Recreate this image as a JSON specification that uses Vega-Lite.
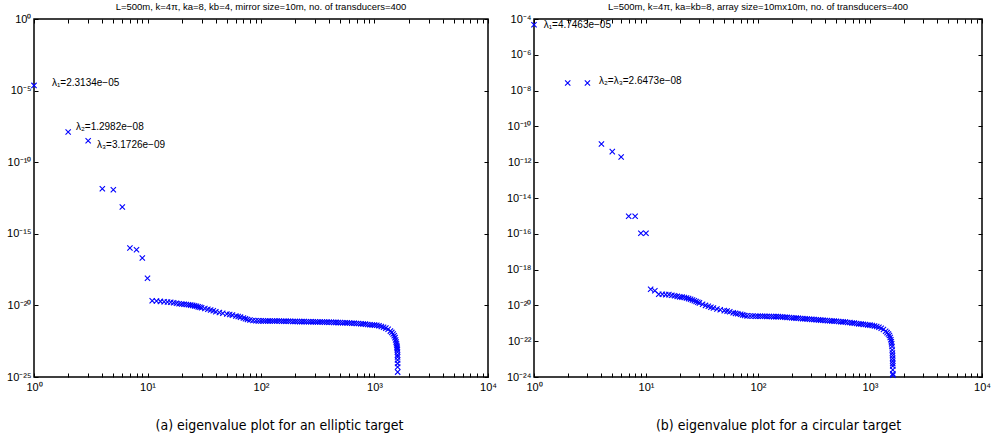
{
  "$schema": "https://vega.github.io/schema/vega-lite/v6.json",
  "padding": {"left": 5, "top": 0, "right": 0, "bottom": 0},
  "spacing": 7,
  "config": {
    "view": {"stroke": "black", "strokeWidth": 1.5},
    "style": {"cell": {"stroke": "black", "strokeWidth": 1.5}},
    "axis": {"grid": false, "tickColor": "black", "labelColor": "black", "labelFont": "Liberation Sans", "labelFontSize": 11, "titleColor": "black", "tickWidth": 1},
    "title": {"font": "Liberation Sans", "fontSize": 9.5, "fontWeight": "normal", "color": "black", "offset": 2}
  },
  "datasets": {
    "left": [
      {"n": 1, "y": 2.3134e-5}, {"n": 2, "y": 1.2982e-8}, {"n": 3, "y": 3.1726e-9},
      {"n": 4, "y": 1.41e-12}, {"n": 5, "y": 1.2e-12}, {"n": 6, "y": 7.4e-14},
      {"n": 7, "y": 1.02e-16}, {"n": 8, "y": 7.8e-17}, {"n": 9, "y": 2.04e-17}, {"n": 10, "y": 7.8e-19},
      {"n": 11, "y": 2.14e-20}, {"n": 12, "y": 2.0e-20}, {"n": 13, "y": 1.9e-20}, {"n": 14, "y": 1.82e-20},
      {"n": 15, "y": 1.74e-20}, {"n": 16, "y": 1.66e-20}, {"n": 17, "y": 1.51e-20}, {"n": 18, "y": 1.41e-20},
      {"n": 19, "y": 1.32e-20}, {"n": 20, "y": 1.26e-20}, {"n": 21, "y": 1.2e-20}, {"n": 22, "y": 1.15e-20},
      {"n": 23, "y": 1.1e-20}, {"n": 24, "y": 1.05e-20}, {"n": 25, "y": 1.0e-20}, {"n": 26, "y": 9.3e-21},
      {"n": 27, "y": 8.7e-21}, {"n": 28, "y": 7.9e-21}, {"n": 29, "y": 7.4e-21}, {"n": 30, "y": 6.8e-21},
      {"n": 32, "y": 6.0e-21}, {"n": 34, "y": 5.4e-21}, {"n": 36, "y": 4.8e-21}, {"n": 38, "y": 4.2e-21},
      {"n": 40, "y": 3.6e-21}, {"n": 43, "y": 3.2e-21}, {"n": 46, "y": 2.8e-21}, {"n": 50, "y": 2.5e-21},
      {"n": 53, "y": 2.3e-21}, {"n": 56, "y": 2.1e-21}, {"n": 60, "y": 1.8e-21}, {"n": 63, "y": 1.66e-21},
      {"n": 66, "y": 1.51e-21}, {"n": 70, "y": 1.32e-21}, {"n": 73, "y": 1.17e-21}, {"n": 76, "y": 1.05e-21},
      {"n": 80, "y": 9.5e-22}, {"n": 85, "y": 8.9e-22}, {"n": 90, "y": 8.5e-22}, {"n": 95, "y": 8.3e-22},
      {"n": 100, "y": 8.3e-22}, {"n": 105, "y": 8.3e-22}, {"n": 110, "y": 8.2e-22}, {"n": 115, "y": 8.2e-22},
      {"n": 120, "y": 8.1e-22}, {"n": 126, "y": 8.1e-22}, {"n": 132, "y": 8.1e-22}, {"n": 138, "y": 8.1e-22},
      {"n": 145, "y": 8.1e-22}, {"n": 152, "y": 7.9e-22}, {"n": 159, "y": 7.9e-22}, {"n": 166, "y": 7.9e-22},
      {"n": 174, "y": 7.8e-22}, {"n": 182, "y": 7.8e-22}, {"n": 191, "y": 7.6e-22}, {"n": 200, "y": 7.6e-22},
      {"n": 209, "y": 7.6e-22}, {"n": 219, "y": 7.4e-22}, {"n": 229, "y": 7.4e-22}, {"n": 240, "y": 7.4e-22},
      {"n": 251, "y": 7.2e-22}, {"n": 263, "y": 7.2e-22}, {"n": 275, "y": 7.2e-22}, {"n": 288, "y": 7.1e-22},
      {"n": 302, "y": 7.1e-22}, {"n": 316, "y": 6.9e-22}, {"n": 331, "y": 6.9e-22}, {"n": 347, "y": 6.9e-22},
      {"n": 363, "y": 6.8e-22}, {"n": 380, "y": 6.8e-22}, {"n": 398, "y": 6.6e-22}, {"n": 417, "y": 6.6e-22},
      {"n": 437, "y": 6.5e-22}, {"n": 457, "y": 6.5e-22}, {"n": 479, "y": 6.3e-22}, {"n": 501, "y": 6.3e-22},
      {"n": 525, "y": 6.2e-22}, {"n": 550, "y": 6.2e-22}, {"n": 575, "y": 6.0e-22}, {"n": 603, "y": 5.9e-22},
      {"n": 631, "y": 5.75e-22}, {"n": 661, "y": 5.6e-22}, {"n": 692, "y": 5.5e-22}, {"n": 724, "y": 5.4e-22},
      {"n": 759, "y": 5.25e-22}, {"n": 794, "y": 5.0e-22}, {"n": 832, "y": 4.9e-22}, {"n": 871, "y": 4.7e-22},
      {"n": 912, "y": 4.5e-22}, {"n": 955, "y": 4.3e-22}, {"n": 1000, "y": 4.2e-22}, {"n": 1047, "y": 4.1e-22},
      {"n": 1096, "y": 3.8e-22}, {"n": 1148, "y": 3.4e-22}, {"n": 1202, "y": 2.95e-22}, {"n": 1259, "y": 2.6e-22},
      {"n": 1318, "y": 2.15e-22}, {"n": 1380, "y": 1.6e-22}, {"n": 1420, "y": 1.3e-22}, {"n": 1460, "y": 1.0e-22},
      {"n": 1490, "y": 7.6e-23}, {"n": 1515, "y": 5.6e-23}, {"n": 1535, "y": 3.8e-23}, {"n": 1550, "y": 2.8e-23},
      {"n": 1562, "y": 2.1e-23}, {"n": 1572, "y": 1.6e-23}, {"n": 1580, "y": 1.26e-23}, {"n": 1586, "y": 1.0e-23},
      {"n": 1590, "y": 7.9e-24}, {"n": 1593, "y": 5.6e-24}, {"n": 1595, "y": 3.5e-24}, {"n": 1596, "y": 2.5e-24},
      {"n": 1597, "y": 1.55e-24}, {"n": 1598, "y": 8.9e-25}, {"n": 1599, "y": 5.0e-25}, {"n": 1600, "y": 2.2e-25}
    ],
    "right": [
      {"n": 1, "y": 4.7463e-5}, {"n": 2, "y": 2.6473e-8}, {"n": 3, "y": 2.6473e-8},
      {"n": 4, "y": 1.05e-11}, {"n": 5, "y": 3.9e-12}, {"n": 6, "y": 1.95e-12},
      {"n": 7, "y": 9.5e-16}, {"n": 8, "y": 9.5e-16}, {"n": 9, "y": 1.07e-16}, {"n": 10, "y": 1.07e-16},
      {"n": 11, "y": 7.9e-20}, {"n": 12, "y": 6.6e-20}, {"n": 13, "y": 4.2e-20}, {"n": 14, "y": 4.2e-20},
      {"n": 15, "y": 4.0e-20}, {"n": 16, "y": 4.0e-20}, {"n": 17, "y": 3.7e-20}, {"n": 18, "y": 3.5e-20},
      {"n": 19, "y": 3.2e-20}, {"n": 20, "y": 3.0e-20}, {"n": 21, "y": 2.9e-20}, {"n": 22, "y": 2.75e-20},
      {"n": 23, "y": 2.6e-20}, {"n": 24, "y": 2.4e-20}, {"n": 25, "y": 2.2e-20}, {"n": 26, "y": 2.0e-20},
      {"n": 27, "y": 1.82e-20}, {"n": 28, "y": 1.66e-20}, {"n": 29, "y": 1.51e-20}, {"n": 30, "y": 1.38e-20},
      {"n": 32, "y": 1.17e-20}, {"n": 34, "y": 1.0e-20}, {"n": 36, "y": 8.9e-21}, {"n": 38, "y": 7.9e-21},
      {"n": 40, "y": 7.1e-21}, {"n": 43, "y": 6.3e-21}, {"n": 46, "y": 5.75e-21}, {"n": 50, "y": 5.1e-21},
      {"n": 53, "y": 4.8e-21}, {"n": 56, "y": 4.4e-21}, {"n": 60, "y": 3.9e-21}, {"n": 63, "y": 3.6e-21},
      {"n": 66, "y": 3.4e-21}, {"n": 70, "y": 3.2e-21}, {"n": 73, "y": 2.95e-21}, {"n": 76, "y": 2.75e-21},
      {"n": 80, "y": 2.6e-21}, {"n": 85, "y": 2.57e-21}, {"n": 90, "y": 2.57e-21}, {"n": 95, "y": 2.5e-21},
      {"n": 100, "y": 2.5e-21}, {"n": 105, "y": 2.5e-21}, {"n": 110, "y": 2.45e-21}, {"n": 115, "y": 2.45e-21},
      {"n": 120, "y": 2.4e-21}, {"n": 126, "y": 2.4e-21}, {"n": 132, "y": 2.4e-21}, {"n": 138, "y": 2.35e-21},
      {"n": 145, "y": 2.35e-21}, {"n": 152, "y": 2.35e-21}, {"n": 159, "y": 2.3e-21}, {"n": 166, "y": 2.24e-21},
      {"n": 174, "y": 2.19e-21}, {"n": 182, "y": 2.14e-21}, {"n": 191, "y": 2.09e-21}, {"n": 200, "y": 2.04e-21},
      {"n": 209, "y": 2.0e-21}, {"n": 219, "y": 1.95e-21}, {"n": 229, "y": 1.9e-21}, {"n": 240, "y": 1.86e-21},
      {"n": 251, "y": 1.82e-21}, {"n": 263, "y": 1.78e-21}, {"n": 275, "y": 1.74e-21}, {"n": 288, "y": 1.7e-21},
      {"n": 302, "y": 1.66e-21}, {"n": 316, "y": 1.62e-21}, {"n": 331, "y": 1.58e-21}, {"n": 347, "y": 1.55e-21},
      {"n": 363, "y": 1.51e-21}, {"n": 380, "y": 1.48e-21}, {"n": 398, "y": 1.45e-21}, {"n": 417, "y": 1.41e-21},
      {"n": 437, "y": 1.38e-21}, {"n": 457, "y": 1.35e-21}, {"n": 479, "y": 1.32e-21}, {"n": 501, "y": 1.29e-21},
      {"n": 525, "y": 1.26e-21}, {"n": 550, "y": 1.23e-21}, {"n": 575, "y": 1.2e-21}, {"n": 603, "y": 1.17e-21},
      {"n": 631, "y": 1.12e-21}, {"n": 661, "y": 1.1e-21}, {"n": 692, "y": 1.05e-21}, {"n": 724, "y": 1.02e-21},
      {"n": 759, "y": 9.8e-22}, {"n": 794, "y": 9.3e-22}, {"n": 832, "y": 9.1e-22}, {"n": 871, "y": 8.7e-22},
      {"n": 912, "y": 8.5e-22}, {"n": 955, "y": 8.1e-22}, {"n": 1000, "y": 7.9e-22}, {"n": 1047, "y": 7.6e-22},
      {"n": 1096, "y": 7.1e-22}, {"n": 1148, "y": 6.6e-22}, {"n": 1202, "y": 6.0e-22}, {"n": 1259, "y": 5.25e-22},
      {"n": 1318, "y": 4.5e-22}, {"n": 1380, "y": 3.6e-22}, {"n": 1420, "y": 3.0e-22}, {"n": 1460, "y": 2.5e-22},
      {"n": 1490, "y": 2.1e-22}, {"n": 1515, "y": 1.6e-22}, {"n": 1535, "y": 1.2e-22}, {"n": 1550, "y": 9.3e-23},
      {"n": 1562, "y": 7.1e-23}, {"n": 1572, "y": 5.0e-23}, {"n": 1580, "y": 3.2e-23}, {"n": 1586, "y": 2.2e-23},
      {"n": 1590, "y": 1.6e-23}, {"n": 1593, "y": 1.1e-23}, {"n": 1595, "y": 7.9e-24}, {"n": 1596, "y": 5.6e-24},
      {"n": 1597, "y": 4.1e-24}, {"n": 1598, "y": 2.5e-24}, {"n": 1599, "y": 1.5e-24}, {"n": 1600, "y": 1.26e-24}
    ],
    "leftLabels": [
      {"n": 1.44, "y": 3.5e-5, "label": "λ₁=2.3134e−05"},
      {"n": 2.34, "y": 2.9e-8, "label": "λ₂=1.2982e−08"},
      {"n": 3.59, "y": 1.6e-9, "label": "λ₃=3.1726e−09"}
    ],
    "rightLabels": [
      {"n": 1.22, "y": 4.6e-5, "label": "λ₁=4.7463e−05"},
      {"n": 3.8, "y": 3.5e-8, "label": "λ₂=λ₃=2.6473e−08"}
    ]
  },
  "hconcat": [
    {
      "width": 454, "height": 358,
      "title": "L=500m, k=4π, ka=8, kb=4, mirror size=10m, no. of transducers=400",
      "layer": [
        {
          "data": {"name": "left"},
          "mark": {"type": "point", "shape": "M-1,-1L1,1M-1,1L1,-1", "size": 28, "color": "#0000ff", "strokeWidth": 1.1, "filled": false, "opacity": 1},
          "encoding": {
            "x": {"field": "n", "type": "quantitative", "scale": {"type": "log", "domain": [1, 10000], "nice": false},
              "axis": {"orient": "bottom", "domain": false, "offset": -4, "tickSize": 4, "labelPadding": 4, "labelFlush": false, "labelOverlap": false,
                "values": [1,2,3,4,5,6,7,8,9,10,20,30,40,50,60,70,80,90,100,200,300,400,500,600,700,800,900,1000,2000,3000,4000,5000,6000,7000,8000,9000,10000],
                "labelExpr": "abs(log(datum.value)/LN10 - round(log(datum.value)/LN10)) < 0.001 ? ['10⁰','10¹','10²','10³','10⁴'][round(log(datum.value)/LN10)] : ''",
                "title": "(a) eigenvalue plot for an elliptic target", "titleFont": "DejaVu Sans Condensed", "titleFontSize": 14, "titleFontWeight": "normal", "titleX": 245, "titleY": 56, "titleBaseline": "alphabetic"}},
            "y": {"field": "y", "type": "quantitative", "scale": {"type": "log", "domain": [1e-25, 1], "nice": false},
              "axis": {"orient": "left", "domain": false, "offset": -4, "tickSize": 4, "labelPadding": 3, "labelOverlap": false, "labelFlush": false, "title": null,
                "values": [1e-25, 1e-20, 1e-15, 1e-10, 1e-5, 1],
                "labelExpr": "['10⁰','10⁻⁵','10⁻¹⁰','10⁻¹⁵','10⁻²⁰','10⁻²⁵'][round(-log(datum.value)/LN10/5)]"}}
          }
        },
        {
          "data": {"name": "leftLabels"},
          "mark": {"type": "text", "align": "left", "baseline": "middle", "font": "Liberation Sans", "fontSize": 10, "color": "black"},
          "encoding": {
            "x": {"field": "n", "type": "quantitative", "axis": {"orient": "top", "domain": false, "offset": -4, "tickSize": 4, "labels": false, "title": null,
              "values": [1,2,3,4,5,6,7,8,9,10,20,30,40,50,60,70,80,90,100,200,300,400,500,600,700,800,900,1000,2000,3000,4000,5000,6000,7000,8000,9000,10000]}},
            "y": {"field": "y", "type": "quantitative", "axis": {"orient": "right", "domain": false, "offset": -4, "tickSize": 4, "labels": false, "title": null,
              "values": [1e-25, 1e-20, 1e-15, 1e-10, 1e-5, 1]}},
            "text": {"field": "label"}
          }
        }
      ],
      "resolve": {"axis": {"x": "independent", "y": "independent"}}
    },
    {
      "width": 448, "height": 358,
      "title": "L=500m, k=4π, ka=kb=8, array size=10mx10m, no. of transducers=400",
      "layer": [
        {
          "data": {"name": "right"},
          "mark": {"type": "point", "shape": "M-1,-1L1,1M-1,1L1,-1", "size": 28, "color": "#0000ff", "strokeWidth": 1.1, "filled": false, "opacity": 1},
          "encoding": {
            "x": {"field": "n", "type": "quantitative", "scale": {"type": "log", "domain": [1, 10000], "nice": false},
              "axis": {"orient": "bottom", "domain": false, "offset": -4, "tickSize": 4, "labelPadding": 4, "labelFlush": false, "labelOverlap": false,
                "values": [1,2,3,4,5,6,7,8,9,10,20,30,40,50,60,70,80,90,100,200,300,400,500,600,700,800,900,1000,2000,3000,4000,5000,6000,7000,8000,9000,10000],
                "labelExpr": "abs(log(datum.value)/LN10 - round(log(datum.value)/LN10)) < 0.001 ? ['10⁰','10¹','10²','10³','10⁴'][round(log(datum.value)/LN10)] : ''",
                "title": "(b) eigenvalue plot for a circular target", "titleFont": "DejaVu Sans Condensed", "titleFontSize": 14, "titleFontWeight": "normal", "titleX": 244, "titleY": 56, "titleBaseline": "alphabetic"}},
            "y": {"field": "y", "type": "quantitative", "scale": {"type": "log", "domain": [1e-24, 1e-4], "nice": false},
              "axis": {"orient": "left", "domain": false, "offset": -4, "tickSize": 4, "labelPadding": 3, "labelOverlap": false, "labelFlush": false, "title": null,
                "values": [1e-24, 1e-22, 1e-20, 1e-18, 1e-16, 1e-14, 1e-12, 1e-10, 1e-8, 1e-6, 1e-4],
                "labelExpr": "['10⁻⁴','10⁻⁶','10⁻⁸','10⁻¹⁰','10⁻¹²','10⁻¹⁴','10⁻¹⁶','10⁻¹⁸','10⁻²⁰','10⁻²²','10⁻²⁴'][round((-log(datum.value)/LN10-4)/2)]"}}
          }
        },
        {
          "data": {"name": "rightLabels"},
          "mark": {"type": "text", "align": "left", "baseline": "middle", "font": "Liberation Sans", "fontSize": 10, "color": "black"},
          "encoding": {
            "x": {"field": "n", "type": "quantitative", "axis": {"orient": "top", "domain": false, "offset": -4, "tickSize": 4, "labels": false, "title": null,
              "values": [1,2,3,4,5,6,7,8,9,10,20,30,40,50,60,70,80,90,100,200,300,400,500,600,700,800,900,1000,2000,3000,4000,5000,6000,7000,8000,9000,10000]}},
            "y": {"field": "y", "type": "quantitative", "axis": {"orient": "right", "domain": false, "offset": -4, "tickSize": 4, "labels": false, "title": null,
              "values": [1e-24, 1e-22, 1e-20, 1e-18, 1e-16, 1e-14, 1e-12, 1e-10, 1e-8, 1e-6, 1e-4]}},
            "text": {"field": "label"}
          }
        }
      ],
      "resolve": {"axis": {"x": "independent", "y": "independent"}}
    }
  ]
}
